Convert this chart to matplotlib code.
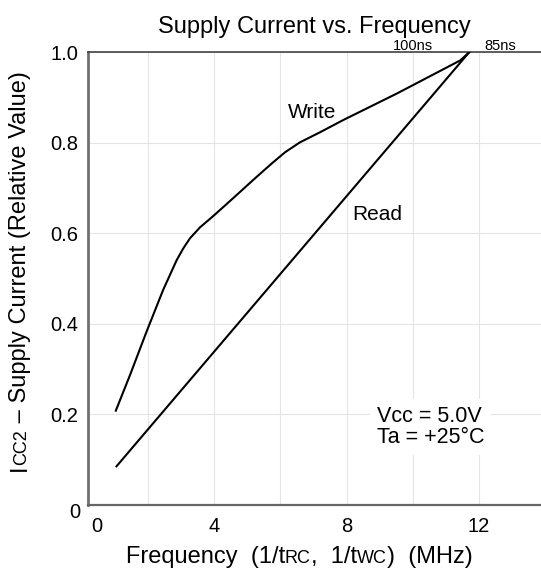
import numpy as np
import matplotlib
matplotlib.use("Agg")
import matplotlib.pyplot as plt

plt.rcParams['font.family'] = ['Liberation Sans', 'DejaVu Sans']

# Write curve (MHz, relative Icc2)
write_freq = [1.03, 1.46, 1.96, 2.46, 2.87, 3.07, 3.27, 3.57, 3.97, 4.58, 5.18, 5.75, 6.14, 6.59, 7.19, 7.89, 9.52, 11.43, 11.7]
write_icc = [0.208, 0.287, 0.383, 0.475, 0.541, 0.567, 0.589, 0.613, 0.638, 0.678, 0.718, 0.755, 0.779, 0.801, 0.823, 0.850, 0.909, 0.982, 1.0]

# Read curve
read_freq = [1.05, 11.7]
read_icc = [0.085, 1.0]

major_x = [4, 8, 12]
minor_x = [2, 6, 10]
y_ticks = [0.2, 0.4, 0.6, 0.8, 1.0]
y_labels = ["0.2", "0.4", "0.6", "0.8", "1.0"]

W, H = 541, 572
fig = plt.figure(figsize=(W / 100, H / 100), dpi=100)
ax = fig.add_axes([88 / W, 67.2 / H, 453 / W, 452.5 / H])

ax.plot(write_freq, write_icc, color="black", lw=1.5, zorder=3)
ax.plot(read_freq, read_icc, color="black", lw=1.5, zorder=3)

ax.set_xlim(0.19, 13.87)
ax.set_ylim(0, 1.0)
ax.set_xticks(major_x)
ax.set_xticks(minor_x, minor=True)
ax.set_yticks(y_ticks)
ax.set_yticklabels(y_labels)
ax.tick_params(axis="both", which="both", length=0, labelsize=14.5)
ax.tick_params(axis="x", pad=9)
ax.tick_params(axis="y", pad=7)
ax.grid(True, which="both", color="#e4e4e4", lw=0.8, zorder=0)
ax.set_axisbelow(True)

ax.spines["right"].set_visible(False)
ax.spines["top"].set_color("#444444")
ax.spines["top"].set_linewidth(1.2)
ax.spines["bottom"].set_color("#666666")
ax.spines["bottom"].set_linewidth(1.6)
ax.spines["left"].set_color("#707070")
ax.spines["left"].set_linewidth(2)

# corner zeros
fig.text(75 / W, 1 - 512 / H, "0", ha="center", va="center", fontsize=14.5)
fig.text(97 / W, 1 - 527 / H, "0", ha="center", va="center", fontsize=14.5)

# title
fig.text(314 / W, 1 - 33 / H, "Supply Current vs. Frequency", ha="center", va="baseline", fontsize=17)

# access time marks on top
for xv, lab in [(10.0, "100ns"), (12.63, "85ns")]:
    ax.annotate(lab, xy=(xv, 1.0), xycoords=("data", "axes fraction"), xytext=(0, 2),
                textcoords="offset points", ha="center", va="baseline", fontsize=10.5,
                annotation_clip=False)

ax.text(6.95, 0.868, "Write", ha="center", va="center", fontsize=15, zorder=4)
ax.text(8.91, 0.642, "Read", ha="center", va="center", fontsize=15, zorder=4)
ax.text(8.91, 0.172, "Vcc = 5.0V\nTa = +25°C", ha="left", va="center", fontsize=15.5,
        linespacing=1.05, zorder=4,
        bbox=dict(facecolor="white", edgecolor="none", pad=5))

# labels made of pieces with small capitals
renderer = fig.canvas.get_renderer()


def piece_widths(pieces):
    out = []
    for s, size in pieces:
        t = fig.text(0, 0, s, fontsize=size)
        out.append(t.get_window_extent(renderer).width)
        t.remove()
    return out


def draw_pieces(cx, cy, pieces, rotation=0):
    # cx, cy: pixel centre of the string on its baseline (from top-left)
    ws = piece_widths(pieces)
    total = sum(ws)
    pos = -total / 2
    for (s, size), w in zip(pieces, ws):
        if rotation == 0:
            x, y = cx + pos, H - cy
        else:
            x, y = cx, H - cy + pos
        fig.text(x / W, y / H, s, fontsize=size, ha="left", va="baseline",
                 rotation=rotation, rotation_mode="anchor")
        pos += w


xlab = [("Frequency  (1/t", 17), ("RC", 13), (",  1/t", 17), ("WC", 13), (")  (MHz)", 17)]
draw_pieces(299, 563, xlab)

ylab = [("I", 17), ("CC2", 13), (" – Supply Current (Relative Value)", 17)]
draw_pieces(26, 271, ylab, rotation=90)

fig.savefig("out.png", dpi=100)
